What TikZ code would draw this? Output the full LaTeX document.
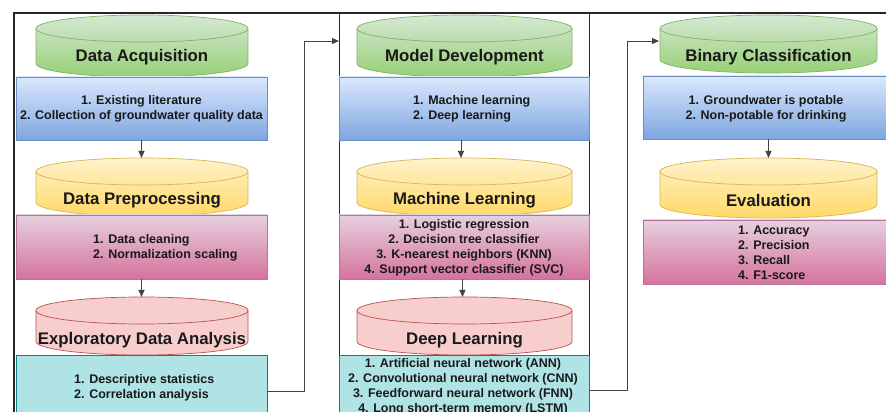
\documentclass[tikz,border=0pt]{standalone}
\usepackage{fontspec}
\setmainfont{Liberation Sans}
\usetikzlibrary{arrows.meta}
\definecolor{gtop}{HTML}{D5E8D4}\definecolor{gbot}{HTML}{97D077}\definecolor{gstr}{HTML}{82B366}
\definecolor{btop}{HTML}{DAE8FC}\definecolor{bbot}{HTML}{7EA6E0}\definecolor{bstr}{HTML}{6C8EBF}
\definecolor{ytop}{HTML}{FFF2CC}\definecolor{ybot}{HTML}{FFD966}\definecolor{ystr}{HTML}{D6B656}
\definecolor{ptop}{HTML}{E6D0DE}\definecolor{pbot}{HTML}{D5739D}\definecolor{pstr}{HTML}{B5739D}
\definecolor{rfill}{HTML}{F8CECC}\definecolor{rstr}{HTML}{B85450}
\definecolor{cfill}{HTML}{B0E3E6}\definecolor{cstr}{HTML}{0E8088}
\definecolor{connc}{HTML}{444444}
\newcommand\drawcyl[7]{% L R T B shade stroke name
  \pgfmathsetmacro\cylrx{(#2-#1)/2}%
  \pgfmathsetmacro\cylcx{(#1+#2)/2}%
  \path[#5,draw=#6,line width=0.7pt] (#1,#3-13.5) -- (#1,#4+13.5)
    arc[start angle=180,end angle=360,x radius=\cylrx,y radius=13.5] -- (#2,#3-13.5)
    arc[start angle=0,end angle=180,x radius=\cylrx,y radius=13.5] -- cycle;
  \draw[draw=#6,line width=0.7pt] (#1,#3-13.5) arc[start angle=180,end angle=360,x radius=\cylrx,y radius=13.5];
  \coordinate (#7) at (\cylcx,#3);
}
\begin{document}
\begin{tikzpicture}[x=1pt,y=1pt,
  title/.style={font=\fontsize{16.8}{20}\selectfont\bfseries, text=black!90, inner sep=0pt},
  body/.style={font=\fontsize{12.5}{15}\selectfont\bfseries, text=black!90, inner sep=0pt},
  box/.style={rectangle, inner sep=0pt, outer sep=0pt, line width=0.7pt},
  bluebox/.style={box, draw=bstr, top color=btop, bottom color=bbot},
  pinkbox/.style={box, draw=pstr, top color=ptop, bottom color=pbot},
  cyanbox/.style={box, draw=cstr, fill=cfill},
  gshade/.style={top color=gtop, bottom color=gbot},
  yshade/.style={top color=ytop, bottom color=ybot},
  rshade/.style={fill=rfill},
  conn/.style={draw=connc, line width=0.9pt, -{Triangle[length=7pt,width=6pt]}},
  frame/.style={draw=black!85}
]
\useasboundingbox (0,0) rectangle (886,412);
\clip (0,0) rectangle (886,412);
\fill[white] (0,0) rectangle (886,412);

% frame lines
\draw[frame, line width=2pt] (13,399) -- (886,399);
\draw[frame, line width=1.5pt] (14,400) -- (14,0);
\draw[frame, line width=1pt] (339,399) -- (339,0);
\draw[frame, line width=1pt] (589,399) -- (589,0);

% cylinders
\drawcyl{36}{248}{397}{335}{gshade}{gstr}{g1t}
\drawcyl{36}{248}{254}{196}{yshade}{ystr}{y1t}
\drawcyl{36}{248}{115}{57}{rshade}{rstr}{r1t}
\drawcyl{357}{572}{397}{335}{gshade}{gstr}{g2t}
\drawcyl{357}{572}{254}{196}{yshade}{ystr}{y2t}
\drawcyl{357}{572}{115}{57}{rshade}{rstr}{r2t}
\drawcyl{660}{877}{397}{339}{gshade}{gstr}{g3t}
\drawcyl{660}{877}{254}{194}{yshade}{ystr}{y3t}

% boxes
\node[bluebox, minimum width=251pt, minimum height=63pt] (b1) at (141.5,303.5) {};
\node[pinkbox, minimum width=251pt, minimum height=64pt] (p1) at (141.5,165) {};
\node[cyanbox, minimum width=251pt, minimum height=72pt] (c1) at (141.5,21) {};
\node[bluebox, minimum width=250pt, minimum height=63pt] (b2) at (464,303.5) {};
\node[pinkbox, minimum width=250pt, minimum height=64pt] (p2) at (464,165) {};
\node[cyanbox, minimum width=250pt, minimum height=70pt] (c2) at (464,22) {};
\node[bluebox, minimum width=243pt, minimum height=63pt] (b3) at (764.5,304.5) {};
\node[pinkbox, minimum width=243pt, minimum height=64pt] (p3) at (764.5,160) {};

% titles
\node[title] (tg1) at (142,355) {Data Acquisition};
\node[title] (ty1) at (142,212) {Data Preprocessing};
\node[title] (tr1) at (142,72) {Exploratory Data Analysis};
\node[title] (tg2) at (464.5,355) {Model Development};
\node[title] (ty2) at (464.5,212) {Machine Learning};
\node[title] (tr2) at (464.5,72) {Deep Learning};
\node[title] (tg3) at (768.5,355) {Binary Classification};
\node[title] (ty3) at (768.5,212) {Evaluation};

% body texts
\node[body, align=center] (xb1) at (141.5,303) {1. Existing literature\\2. Collection of groundwater quality data};
\node[body, align=left, anchor=west] (xp1) at (93,164.5) {1. Data cleaning\\2. Normalization scaling};
\node[body, align=left, anchor=west] (xc1) at (74,24.5) {1. Descriptive statistics\\2. Correlation analysis};
\node[body, align=left, anchor=west] (xb2) at (413,303) {1. Machine learning\\2. Deep learning};
\node[body, align=center] (xp2) at (464,164.5) {1. Logistic regression\\2. Decision tree classifier\\3. K-nearest neighbors (KNN)\\4. Support vector classifier (SVC)};
\node[body, align=center] (xc2) at (463,25.5) {1. Artificial neural network (ANN)\\2. Convolutional neural network (CNN)\\3. Feedforward neural network (FNN)\\4. Long short-term memory (LSTM)};
\node[body, align=center] (xb3) at (766,303) {1. Groundwater is potable\\2. Non-potable for drinking};
\node[body, align=left, anchor=west] (xp3) at (738,159.5) {1. Accuracy\\2. Precision\\3. Recall\\4. F1-score};

% vertical arrows
\draw[conn] (b1.south) -- (b1.south |- y1t);
\draw[conn] (p1.south) -- (p1.south |- r1t);
\draw[conn] ([xshift=-3pt]b2.south) -- ([xshift=-3pt]b2.south |- y2t);
\draw[conn] ([xshift=-1.5pt]p2.south) -- ([xshift=-1.5pt]p2.south |- r2t);
\draw[conn] (b3.south -| y3t) -- (y3t);

% long connectors
\coordinate (k1) at (304,371);
\coordinate (mdIn) at (339,371);
\coordinate (k2) at (627,371);
\coordinate (bcIn) at (659,371);
\draw[conn] (c1.east) -| (k1) -- (mdIn);
\draw[conn] (c2.east) -| (k2) -- (bcIn);
\end{tikzpicture}
\end{document}
